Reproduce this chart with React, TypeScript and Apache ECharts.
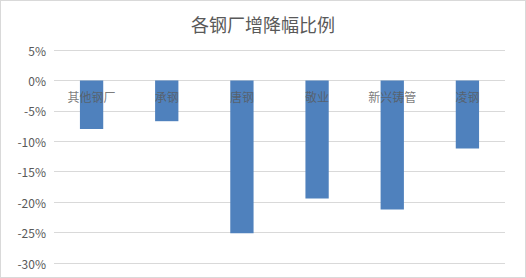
import React, { useEffect, useRef } from "react";
import * as echarts from "echarts";

const categories = ["其他钢厂", "承钢", "唐钢", "敬业", "新兴铸管", "凌钢"];
const changeValues = [-8.0, -6.7, -25.1, -19.4, -21.2, -11.2];
const titleText = "各钢厂增降幅比例";

export default function App() {
  const ref = useRef<HTMLDivElement>(null);
  useEffect(() => {
    if (!ref.current) return;
    const chart = echarts.init(ref.current, null, { renderer: "svg" });
    const font = "'Noto Sans CJK SC', 'Microsoft YaHei', sans-serif";
    chart.setOption({
      animation: false,
      backgroundColor: "#ffffff",
      title: {
        text: titleText,
        left: "center",
        top: 9,
        textStyle: { fontFamily: font, fontSize: 18, fontWeight: "normal", color: "#595959" },
      },
      grid: { left: 53, right: 20, top: 49, bottom: 14, containLabel: false, outerBoundsMode: "none" },
      xAxis: {
        type: "category",
        data: categories,
        axisLine: { show: false },
        axisTick: { show: false },
        axisLabel: { show: false },
        splitLine: { show: false },
      },
      yAxis: {
        type: "value",
        min: -30,
        max: 5,
        interval: 5,
        axisLine: { show: false },
        axisTick: { show: false },
        axisLabel: { color: "#595959", fontFamily: font, fontSize: 12, margin: 8, formatter: "{value}%" },
        splitLine: { lineStyle: { color: "#d9d9d9" } },
      },
      series: [
        {
          type: "bar",
          data: changeValues,
          barWidth: "31%",
          itemStyle: { color: "#4f81bd" },
          z: 2,
        },
        {
          type: "scatter",
          data: categories.map((c) => [c, 0]),
          symbolSize: 0,
          z: 5,
          silent: true,
          label: {
            show: true,
            position: "bottom",
            distance: 10,
            formatter: (p: any) => p.value[0],
            color: "#595959",
            fontFamily: font,
            fontSize: 12,
          },
        },
      ],
    });
    return () => chart.dispose();
  }, []);
  return (
    <div
      style={{
        position: "fixed",
        left: 0,
        top: 0,
        width: 526,
        height: 278,
        boxSizing: "border-box",
        border: "1px solid #d9d9d9",
        background: "#fff",
      }}
    >
      <div ref={ref} style={{ width: 524, height: 276 }} />
    </div>
  );
}
